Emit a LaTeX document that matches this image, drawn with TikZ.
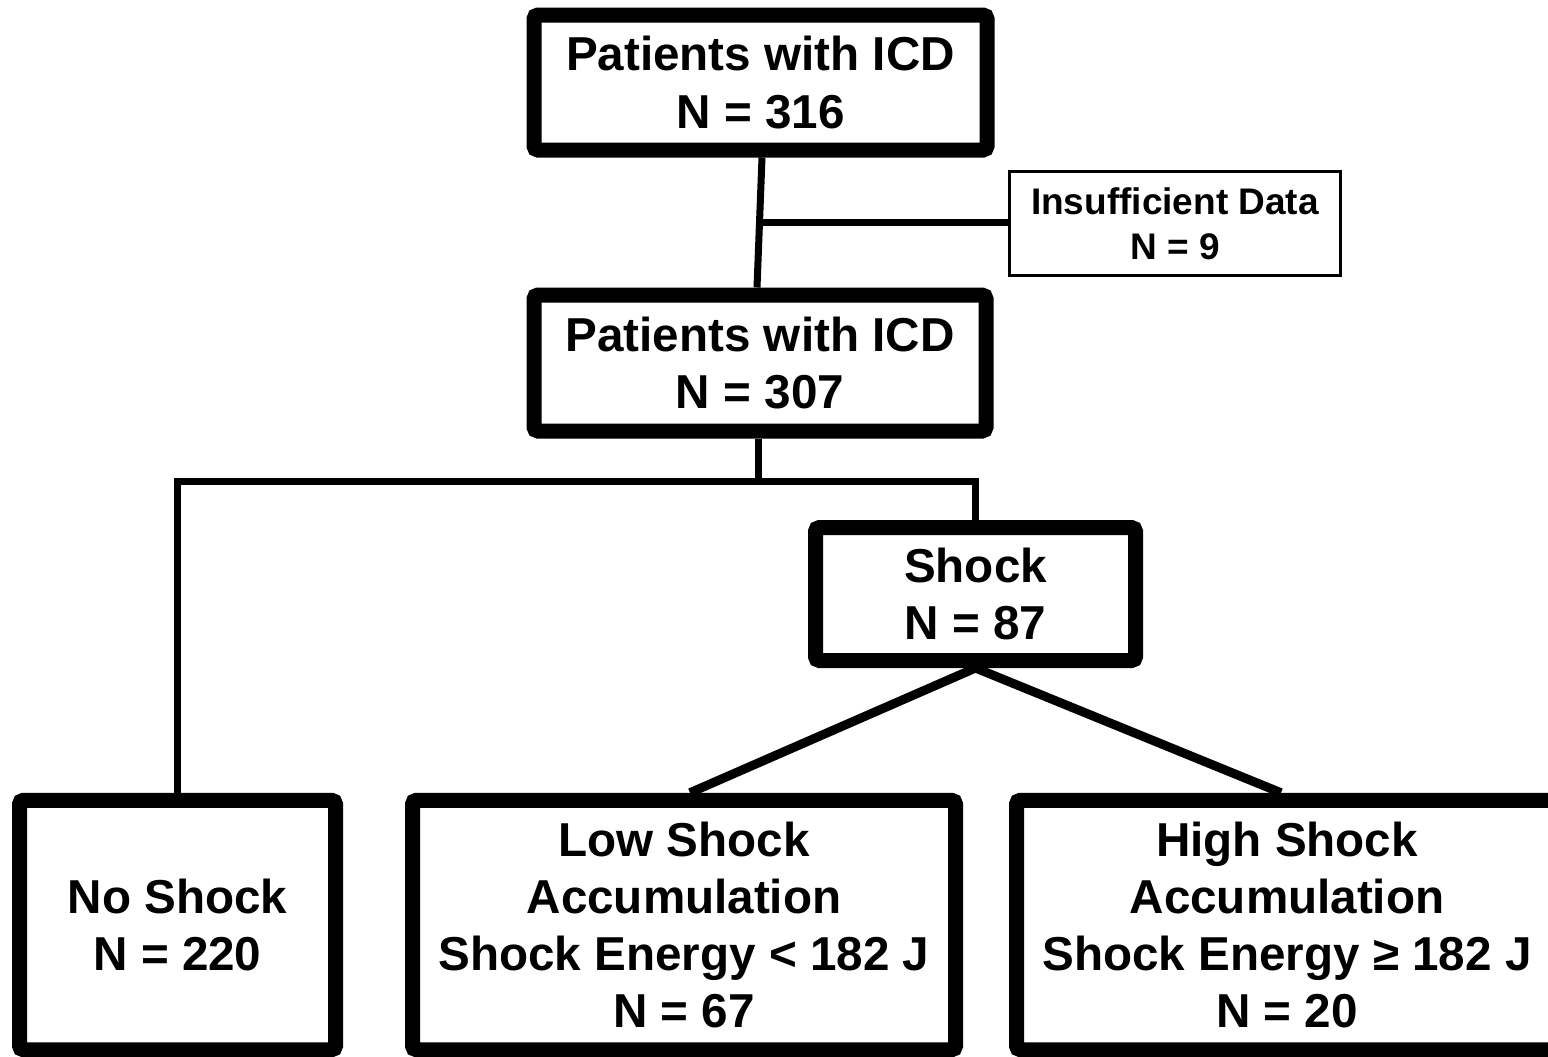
\documentclass[tikz,border=0pt]{standalone}
\usepackage{fontspec}
\setmainfont{Liberation Sans}
\begin{document}
\begin{tikzpicture}[x=0.5pt,y=-0.5pt,
  bigbox/.style={draw, line width=7.5pt, rounded corners=2pt, fill=white, inner sep=0pt, align=center,
    font=\fontsize{23.8}{28.6}\selectfont\bfseries},
  smallbox/.style={draw, line width=1.5pt, fill=white, inner sep=0pt, align=center,
    font=\fontsize{18.5}{22.5}\selectfont\bfseries},
  conn/.style={line width=3.5pt},
  diag/.style={line width=4.5pt}]
\useasboundingbox (0,0) rectangle (1548,1056);
\clip (0,0) rectangle (1548,1056);
\node[bigbox, minimum width=226.5pt, minimum height=67.5pt] (top) at (760.5,82.5) {Patients with ICD\\N = 316};
\node[bigbox, minimum width=226pt, minimum height=68pt] (mid) at (760,363) {Patients with ICD\\N = 307};
\node[smallbox, minimum width=165.5pt, minimum height=52pt] (insuf) at (1175,223.5) {Insufficient Data\\N = 9};
\node[bigbox, minimum width=160pt, minimum height=66.5pt] (shock) at (975.5,594) {Shock\\N = 87};
\node[bigbox, minimum width=158pt, minimum height=124.75pt] (noshock) at (177.5,925) {No Shock\\N = 220};
\node[bigbox, minimum width=271.5pt, minimum height=124.75pt] (low) at (684,925) {Low Shock\\Accumulation\\Shock Energy < 182 J\\N = 67};
\node[bigbox, minimum width=270.5pt, minimum height=124.75pt] (high) at (1287,925) {High Shock\\Accumulation\\Shock Energy ≥ 182 J\\N = 20};
\coordinate (j1) at (759,222);
\coordinate (split) at (758,481.5);
\draw[conn] ([xshift=0.75pt]top.south) -- ([xshift=-1.5pt]mid.north);
\draw[conn] (j1) -- (insuf.west |- j1);
\draw[conn] ([xshift=-1pt]mid.south) -- (split);
\draw[conn] (noshock.north) |- (split) -| (shock.north);
\draw[diag] (shock.south) -- ([xshift=3pt]low.north);
\draw[diag] (shock.south) -- ([xshift=-3pt]high.north);
\end{tikzpicture}
\end{document}
